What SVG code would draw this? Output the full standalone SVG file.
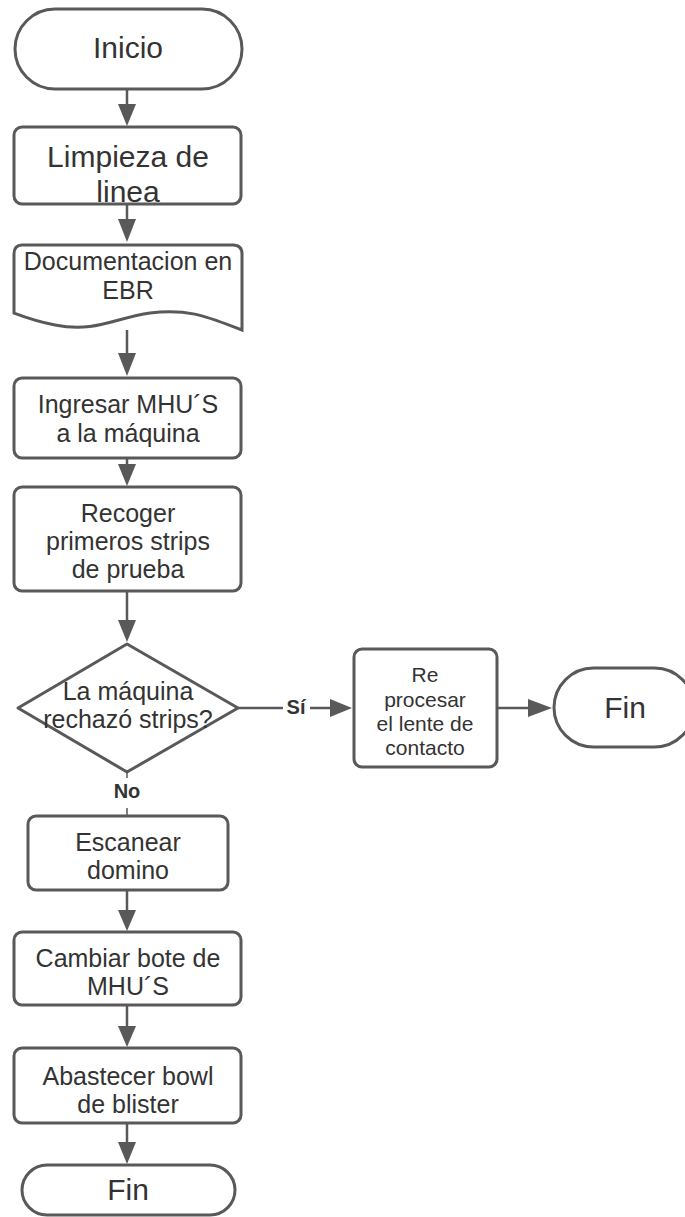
<svg xmlns="http://www.w3.org/2000/svg" width="685" height="1217" viewBox="0 0 685 1217">
  <defs>
    <style>
      .shape { fill: #ffffff; stroke: #595959; stroke-width: 3; }
      .edge { fill: none; stroke: #595959; stroke-width: 2.5; }
      .head { fill: #595959; }
      .t { font-family: "Liberation Sans", Arial, sans-serif; fill: #333333; text-anchor: middle; }
      .big { font-size: 30px; }
      .mid { font-size: 25px; }
      .sm { font-size: 21px; }
      .lbl { font-family: "Liberation Sans", Arial, sans-serif; font-weight: bold; font-size: 20px; fill: #333333; text-anchor: middle; }
    </style>
  </defs>
  <rect width="685" height="1217" fill="#ffffff"/>

  <!-- connectors -->
  <g id="connectors">
    <path class="edge" d="M127,90 L127,104"/>
    <path class="head" d="M118,104 L136,104 L127,126 z"/>
    <path class="edge" d="M127,204 L127,219"/>
    <path class="head" d="M118,219 L136,219 L127,242 z"/>
    <path class="edge" d="M127,330 L127,353"/>
    <path class="head" d="M118,353 L136,353 L127,376 z"/>
    <path class="edge" d="M127,458 L127,464"/>
    <path class="head" d="M118,464 L136,464 L127,486 z"/>
    <path class="edge" d="M127,591 L127,620"/>
    <path class="head" d="M118,620 L136,620 L127,642 z"/>
    <!-- yes branch -->
    <path class="edge" d="M238,708 L330,708"/>
    <path class="head" d="M330,699 L330,717 L352,708 z"/>
    <path class="edge" d="M497,708 L528,708"/>
    <path class="head" d="M528,699 L528,717 L552,708 z"/>
    <!-- no branch -->
    <path d="M127,772 L127,815" fill="none" stroke="#595959" stroke-width="1.5"/>
    <path class="edge" d="M127,890 L127,910"/>
    <path class="head" d="M118,910 L136,910 L127,931 z"/>
    <path class="edge" d="M127,1005 L127,1026"/>
    <path class="head" d="M118,1026 L136,1026 L127,1047 z"/>
    <path class="edge" d="M127,1123 L127,1142"/>
    <path class="head" d="M118,1142 L136,1142 L127,1164 z"/>
    <!-- edge labels -->
    <rect x="283" y="694" width="27" height="26" fill="#ffffff"/>
    <text class="lbl" x="296" y="714">Sí</text>
    <rect x="110" y="778" width="34" height="30" fill="#ffffff"/>
    <text class="lbl" x="127" y="798">No</text>
  </g>

  <g id="inicio">
    <rect class="shape" x="15" y="9" width="227" height="80" rx="40" ry="40"/>
    <text class="t big" x="128" y="58">Inicio</text>
  </g>

  <g id="limpieza">
    <rect class="shape" x="14" y="127" width="227" height="77" rx="8" ry="8"/>
    <text class="t big" x="128" y="167">Limpieza de</text>
    <text class="t big" x="128" y="202">linea</text>
  </g>

  <g id="documentacion">
    <path class="shape" d="M22,245 L233,245 Q242,245 242,254 L242,330 C210,318 190,308 150,313 C115,318 95,333 55,325 C35,321 22,316 14,313 L14,254 Q14,245 22,245 z"/>
    <text class="t mid" x="128" y="270">Documentacion en</text>
    <text class="t mid" x="128" y="299">EBR</text>
  </g>

  <g id="ingresar">
    <rect class="shape" x="14" y="378" width="227" height="80" rx="8" ry="8"/>
    <text class="t mid" x="128" y="413">Ingresar MHU´S</text>
    <text class="t mid" x="128" y="442">a la máquina</text>
  </g>

  <g id="recoger">
    <rect class="shape" x="14" y="487" width="227" height="104" rx="8" ry="8"/>
    <text class="t mid" x="128" y="522">Recoger</text>
    <text class="t mid" x="128" y="550">primeros strips</text>
    <text class="t mid" x="128" y="578">de prueba</text>
  </g>

  <g id="decision">
    <path class="shape" stroke-linejoin="round" d="M127,644 L238,708 L127,772 L18,708 z"/>
    <text class="t mid" x="128" y="700">La máquina</text>
    <text class="t mid" x="128" y="728">rechazó strips?</text>
  </g>

  <g id="reprocesar">
    <rect class="shape" x="354" y="649" width="143" height="118" rx="8" ry="8"/>
    <text class="t sm" x="425" y="682">Re</text>
    <text class="t sm" x="425" y="707">procesar</text>
    <text class="t sm" x="425" y="731">el lente de</text>
    <text class="t sm" x="425" y="755">contacto</text>
  </g>

  <g id="fin-si">
    <rect class="shape" x="554" y="668" width="140" height="79" rx="39.5" ry="39.5"/>
    <text class="t big" x="625" y="718">Fin</text>
  </g>

  <g id="escanear">
    <rect class="shape" x="28" y="816" width="200" height="74" rx="8" ry="8"/>
    <text class="t mid" x="128" y="851">Escanear</text>
    <text class="t mid" x="128" y="879">domino</text>
  </g>

  <g id="cambiar">
    <rect class="shape" x="14" y="932" width="227" height="73" rx="8" ry="8"/>
    <text class="t mid" x="128" y="967">Cambiar bote de</text>
    <text class="t mid" x="128" y="995">MHU´S</text>
  </g>

  <g id="abastecer">
    <rect class="shape" x="14" y="1048" width="227" height="75" rx="8" ry="8"/>
    <text class="t mid" x="128" y="1085">Abastecer bowl</text>
    <text class="t mid" x="128" y="1113">de blister</text>
  </g>

  <g id="fin-no">
    <rect class="shape" x="22" y="1165" width="213" height="50" rx="25" ry="25"/>
    <text class="t big" x="128" y="1200">Fin</text>
  </g>
</svg>
